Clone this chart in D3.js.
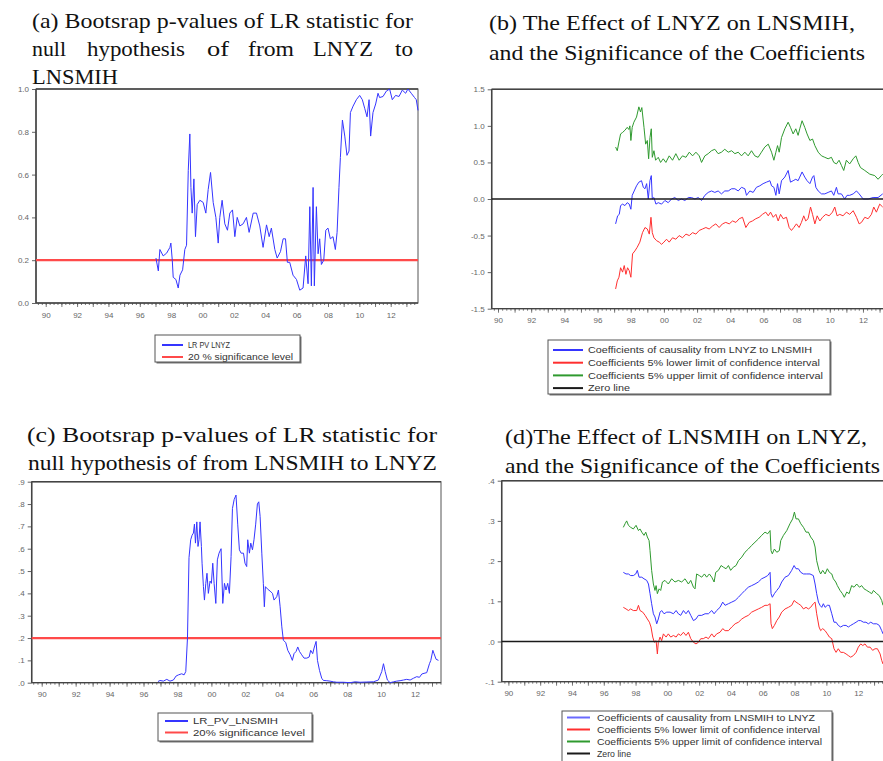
<!DOCTYPE html>
<html><head><meta charset="utf-8">
<script src="https://cdn.jsdelivr.net/npm/d3@7"></script>
<style>body{margin:0;background:#fff}svg{display:block}</style>
</head><body>
<script>
// ---------- shared axis labels ----------
const xTickYears = [1990,1992,1994,1996,1998,2000,2002,2004,2006,2008,2010,2012];
const xTickLabels = ["90","92","94","96","98","00","02","04","06","08","10","12"];

// ---------- panel (a) ----------
const aTitle1 = "(a) Bootsrap p-values of LR statistic for";
const aTitle2Words = ["null","hypothesis","of","from","LNYZ","to"];
const aTitle3 = "LNSMIH";
const aYTicks = [0,0.2,0.4,0.6,0.8,1.0];
const aYLabels = ["0.0","0.2","0.4","0.6","0.8","1.0"];
const aLegend = ["LR PV LNYZ","20 % significance level"];
const aSig = 0.2;
const aT = [1997.03,1997.18,1997.28,1997.49,1997.71,1997.92,1997.98,1998.07,1998.13,1998.30,1998.45,1998.56,1998.73,1998.87,1998.98,1999.09,1999.19,1999.26,1999.34,1999.45,1999.55,1999.66,1999.83,2000.04,2000.21,2000.36,2000.51,2000.68,2000.85,2001.00,2001.10,2001.25,2001.42,2001.59,2001.74,2001.91,2002.06,2002.21,2002.38,2002.59,2002.80,2002.97,2003.23,2003.44,2003.65,2003.86,2004.08,2004.25,2004.39,2004.61,2004.76,2004.97,2005.14,2005.29,2005.41,2005.56,2005.77,2005.99,2006.20,2006.41,2006.58,2006.73,2006.84,2006.94,2007.05,2007.13,2007.26,2007.37,2007.47,2007.58,2007.73,2007.86,2008.00,2008.15,2008.32,2008.47,2008.58,2008.70,2008.79,2008.92,2009.07,2009.21,2009.34,2009.43,2009.60,2009.81,2010.02,2010.19,2010.34,2010.49,2010.62,2010.72,2010.87,2011.04,2011.19,2011.29,2011.51,2011.72,2011.93,2012.10,2012.31,2012.53,2012.74,2012.95,2013.10,2013.31,2013.52,2013.63,2013.74];
const aPV = [0.21,0.15,0.25,0.22,0.233,0.26,0.28,0.20,0.12,0.11,0.07,0.13,0.155,0.25,0.27,0.62,0.79,0.54,0.42,0.58,0.31,0.46,0.48,0.47,0.42,0.53,0.61,0.47,0.40,0.28,0.40,0.48,0.37,0.34,0.42,0.435,0.31,0.40,0.36,0.37,0.40,0.33,0.42,0.42,0.36,0.26,0.365,0.31,0.35,0.25,0.21,0.24,0.30,0.30,0.19,0.19,0.13,0.11,0.06,0.07,0.22,0.09,0.45,0.08,0.54,0.08,0.45,0.23,0.30,0.18,0.20,0.34,0.35,0.30,0.31,0.25,0.33,0.54,0.68,0.855,0.78,0.69,0.71,0.89,0.92,0.95,0.97,0.95,0.91,0.87,0.95,0.78,0.89,0.93,0.98,0.96,0.965,0.99,1.0,0.95,0.97,0.965,0.995,0.98,1.0,0.98,0.96,0.95,0.90];

// ---------- panel (b) ----------
const bTitle1 = "(b) The Effect of LNYZ on LNSMIH,";
const bTitle2 = "and the Significance of the Coefficients";
const bYTicks = [-1.5,-1.0,-0.5,0,0.5,1.0,1.5];
const bYLabels = ["-1.5","-1.0","-0.5","0.0","0.5","1.0","1.5"];
const bLegend = ["Coefficients of causality from LNYZ to LNSMIH","Coefficients 5% lower limit of confidence interval","Coefficients 5% upper limit of confidence interval","Zero line"];
const bUpT = [1997.09,1997.19,1997.29,1997.39,1997.51,1997.65,1997.79,1997.89,1997.95,1998.01,1998.09,1998.19,1998.35,1998.49,1998.59,1998.67,1998.80,1998.90,1999.00,1999.08,1999.16,1999.24,1999.30,1999.40,1999.50,1999.66,1999.80,1999.96,2000.12,2000.32,2000.52,2000.72,2000.92,2001.12,2001.33,2001.53,2001.73,2001.93,2002.13,2002.27,2002.47,2002.67,2002.87,2003.07,2003.27,2003.47,2003.67,2003.88,2004.08,2004.28,2004.48,2004.68,2004.88,2005.08,2005.28,2005.48,2005.68,2005.88,2006.08,2006.29,2006.49,2006.63,2006.75,2006.85,2006.95,2007.09,2007.29,2007.49,2007.63,2007.79,2007.95,2008.09,2008.19,2008.33,2008.49,2008.63,2008.80,2008.96,2009.10,2009.30,2009.50,2009.70,2009.90,2010.10,2010.24,2010.40,2010.56,2010.70,2010.84,2011.00,2011.20,2011.41,2011.57,2011.71,2011.85,2012.11,2012.41,2012.71,2012.91,2013.11,2013.19];
const bUp = [0.71,0.66,0.78,0.89,0.91,0.94,0.98,0.95,1.0,0.80,0.98,1.05,1.12,1.26,1.19,1.25,0.98,0.75,0.80,0.55,0.84,0.96,0.57,0.66,0.53,0.57,0.50,0.55,0.50,0.59,0.53,0.62,0.53,0.59,0.57,0.64,0.59,0.64,0.59,0.50,0.59,0.62,0.66,0.68,0.62,0.64,0.68,0.64,0.66,0.62,0.64,0.59,0.64,0.59,0.66,0.59,0.57,0.64,0.71,0.75,0.64,0.53,0.64,0.73,0.64,0.84,0.96,1.05,0.98,0.89,0.96,0.87,0.96,1.07,0.98,0.89,0.80,0.82,0.73,0.64,0.59,0.57,0.55,0.57,0.50,0.48,0.53,0.46,0.39,0.53,0.48,0.55,0.59,0.50,0.43,0.39,0.34,0.32,0.27,0.32,0.34];
const bCoefT = [1997.09,1997.21,1997.31,1997.39,1997.51,1997.65,1997.79,1997.91,1998.01,1998.09,1998.21,1998.35,1998.49,1998.65,1998.76,1998.86,1998.96,1999.06,1999.16,1999.24,1999.30,1999.40,1999.52,1999.66,1999.86,2000.06,2000.26,2000.46,2000.66,2000.86,2001.06,2001.27,2001.47,2001.67,2001.87,2002.07,2002.27,2002.47,2002.67,2002.87,2003.07,2003.27,2003.47,2003.67,2003.88,2004.08,2004.28,2004.48,2004.68,2004.88,2004.98,2005.18,2005.38,2005.58,2005.78,2005.98,2006.18,2006.39,2006.49,2006.63,2006.75,2006.85,2006.95,2007.09,2007.29,2007.49,2007.63,2007.79,2007.95,2008.09,2008.19,2008.33,2008.49,2008.63,2008.80,2008.96,2009.04,2009.16,2009.30,2009.50,2009.70,2009.90,2010.10,2010.24,2010.40,2010.50,2010.70,2010.90,2011.04,2011.20,2011.41,2011.61,2011.77,2012.01,2012.31,2012.61,2012.91,2013.19];
const bCoef = [-0.34,-0.23,-0.21,-0.09,-0.07,-0.09,-0.05,-0.07,-0.14,0.05,0.11,0.18,0.23,0.25,0.16,0.14,0.21,0.0,0.25,0.32,0.0,0.02,-0.07,-0.05,-0.07,-0.02,-0.05,0.0,0.02,-0.02,0.0,-0.02,0.02,0.02,0.0,0.02,-0.02,0.05,0.09,0.11,0.09,0.11,0.07,0.11,0.11,0.14,0.14,0.11,0.16,0.14,0.05,0.11,0.09,0.16,0.18,0.21,0.23,0.25,0.18,0.16,0.05,0.21,0.07,0.25,0.30,0.39,0.23,0.25,0.27,0.25,0.30,0.37,0.30,0.25,0.21,0.30,0.32,0.16,0.11,0.07,0.07,0.09,0.11,0.05,0.16,0.07,0.07,0.0,0.05,0.05,0.07,0.11,0.07,0.0,0.0,0.02,0.02,0.07];
const bLowT = [1997.09,1997.19,1997.29,1997.39,1997.51,1997.61,1997.71,1997.81,1997.91,1998.01,1998.11,1998.25,1998.39,1998.55,1998.71,1998.86,1999.00,1999.12,1999.22,1999.30,1999.40,1999.56,1999.72,1999.86,2000.00,2000.16,2000.32,2000.52,2000.72,2000.92,2001.12,2001.33,2001.53,2001.73,2001.93,2002.13,2002.33,2002.53,2002.73,2002.93,2003.13,2003.33,2003.53,2003.73,2003.94,2004.14,2004.34,2004.54,2004.74,2004.94,2005.14,2005.34,2005.54,2005.74,2005.94,2006.14,2006.29,2006.43,2006.59,2006.75,2006.89,2007.03,2007.19,2007.39,2007.55,2007.69,2007.83,2007.99,2008.15,2008.29,2008.43,2008.55,2008.69,2008.84,2008.96,2009.10,2009.24,2009.40,2009.56,2009.76,2009.96,2010.16,2010.30,2010.44,2010.60,2010.80,2011.00,2011.20,2011.41,2011.61,2011.77,2011.91,2012.11,2012.31,2012.51,2012.65,2012.81,2013.01,2013.19];
const bLow = [-1.23,-1.12,-1.07,-0.94,-1.00,-0.91,-1.03,-0.94,-0.98,-1.07,-0.75,-0.71,-0.66,-0.59,-0.46,-0.39,-0.41,-0.48,-0.25,-0.46,-0.53,-0.57,-0.59,-0.62,-0.59,-0.55,-0.59,-0.53,-0.55,-0.50,-0.53,-0.48,-0.50,-0.46,-0.48,-0.43,-0.41,-0.39,-0.41,-0.37,-0.34,-0.39,-0.34,-0.32,-0.34,-0.30,-0.32,-0.27,-0.25,-0.39,-0.32,-0.30,-0.27,-0.25,-0.21,-0.18,-0.23,-0.18,-0.25,-0.21,-0.30,-0.21,-0.27,-0.25,-0.39,-0.43,-0.39,-0.34,-0.39,-0.32,-0.23,-0.30,-0.27,-0.11,-0.21,-0.34,-0.23,-0.30,-0.25,-0.21,-0.23,-0.18,-0.11,-0.23,-0.21,-0.23,-0.18,-0.21,-0.16,-0.25,-0.34,-0.32,-0.25,-0.27,-0.21,-0.11,-0.18,-0.07,-0.11];

// ---------- panel (c) ----------
const cTitle1 = "(c) Bootsrap p-values of LR statistic for";
const cTitle2 = "null hypothesis of from LNSMIH to LNYZ";
const cYTicks = [0,0.1,0.2,0.3,0.4,0.5,0.6,0.7,0.8,0.9];
const cYLabels = [".0",".1",".2",".3",".4",".5",".6",".7",".8",".9"];
const cLegend = ["LR_PV_LNSMIH","20% significance level"];
const cSig = 0.2;
const cT = [1996.85,1996.97,1997.17,1997.37,1997.56,1997.76,1997.92,1998.06,1998.25,1998.39,1998.49,1998.59,1998.68,1998.78,1998.86,1998.94,1999.00,1999.06,1999.14,1999.21,1999.27,1999.33,1999.41,1999.45,1999.53,1999.59,1999.67,1999.74,1999.82,1999.92,2000.00,2000.08,2000.16,2000.26,2000.35,2000.45,2000.57,2000.67,2000.77,2000.86,2000.96,2001.06,2001.16,2001.24,2001.34,2001.45,2001.55,2001.65,2001.75,2001.89,2001.98,2002.08,2002.14,2002.24,2002.32,2002.42,2002.51,2002.61,2002.71,2002.79,2002.87,2002.97,2003.06,2003.12,2003.18,2003.30,2003.46,2003.60,2003.69,2003.85,2003.95,2004.05,2004.15,2004.24,2004.38,2004.50,2004.64,2004.77,2004.87,2004.99,2005.09,2005.19,2005.32,2005.46,2005.62,2005.76,2005.85,2005.97,2006.05,2006.17,2006.25,2006.37,2006.50,2006.60,2006.80,2006.99,2007.19,2007.39,2007.78,2008.17,2008.47,2008.76,2009.16,2009.55,2009.84,2010.04,2010.14,2010.24,2010.37,2010.53,2010.73,2010.92,2011.12,2011.32,2011.51,2011.71,2011.91,2012.10,2012.26,2012.40,2012.53,2012.69,2012.85,2012.93,2013.05,2013.12,2013.24,2013.38];
const cPV = [0.005,0.01,0.007,0.015,0.007,0.012,0.03,0.035,0.04,0.035,0.05,0.2,0.56,0.64,0.66,0.67,0.71,0.625,0.72,0.61,0.64,0.72,0.61,0.535,0.43,0.37,0.445,0.49,0.40,0.455,0.445,0.535,0.445,0.355,0.55,0.58,0.60,0.355,0.445,0.415,0.445,0.40,0.565,0.78,0.82,0.84,0.71,0.595,0.58,0.58,0.535,0.52,0.64,0.58,0.625,0.595,0.64,0.71,0.80,0.81,0.745,0.58,0.445,0.34,0.43,0.42,0.41,0.40,0.37,0.385,0.415,0.34,0.25,0.19,0.18,0.145,0.125,0.10,0.13,0.14,0.16,0.14,0.125,0.11,0.11,0.115,0.145,0.13,0.155,0.185,0.10,0.055,0.02,0.01,0.009,0.007,0.004,0.002,0.002,0.0,0.004,0.002,0.003,0.004,0.012,0.05,0.085,0.05,0.012,0.0,0.004,0.007,0.009,0.012,0.015,0.012,0.02,0.027,0.024,0.039,0.042,0.045,0.085,0.10,0.145,0.13,0.105,0.10];

// ---------- panel (d) ----------
const dTitle1 = "(d)The Effect of LNSMIH on LNYZ,";
const dTitle2 = "and the Significance of the Coefficients";
const dYTicks = [-0.1,0,0.1,0.2,0.3,0.4];
const dYLabels = ["-.1",".0",".1",".2",".3",".4"];
const dLegend = ["Coefficients of causality from LNSMIH to LNYZ","Coefficients 5% lower limit of confidence interval","Coefficients 5% upper limit of confidence interval","Zero line"];
const dUpT = [1997.23,1997.34,1997.44,1997.55,1997.69,1997.86,1998.03,1998.18,1998.28,1998.39,1998.53,1998.64,1998.74,1998.85,1998.91,1999.01,1999.12,1999.22,1999.29,1999.37,1999.48,1999.58,1999.69,1999.85,2000.06,2000.27,2000.48,2000.69,2000.90,2001.11,2001.32,2001.47,2001.64,2001.74,2001.84,2002.01,2002.16,2002.33,2002.47,2002.64,2002.79,2002.94,2003.04,2003.21,2003.38,2003.52,2003.69,2003.84,2003.98,2004.15,2004.32,2004.47,2004.68,2004.88,2005.09,2005.30,2005.51,2005.72,2005.93,2006.14,2006.31,2006.46,2006.52,2006.60,2006.73,2006.88,2007.04,2007.13,2007.30,2007.51,2007.71,2007.88,2007.99,2008.09,2008.24,2008.39,2008.56,2008.72,2008.87,2009.01,2009.18,2009.29,2009.39,2009.54,2009.64,2009.77,2009.92,2010.06,2010.19,2010.34,2010.44,2010.59,2010.69,2010.86,2011.01,2011.13,2011.28,2011.43,2011.59,2011.74,2011.91,2012.08,2012.22,2012.37,2012.54,2012.70,2012.85,2012.96,2013.17,2013.33,2013.48,2013.56];
const dUp = [0.284,0.293,0.30,0.289,0.284,0.28,0.289,0.276,0.28,0.272,0.264,0.272,0.26,0.251,0.226,0.177,0.143,0.127,0.139,0.119,0.131,0.127,0.148,0.152,0.143,0.156,0.148,0.152,0.148,0.156,0.143,0.152,0.135,0.131,0.168,0.164,0.16,0.168,0.16,0.168,0.16,0.148,0.172,0.177,0.189,0.185,0.181,0.189,0.177,0.185,0.189,0.201,0.21,0.222,0.23,0.239,0.247,0.255,0.264,0.272,0.268,0.276,0.226,0.218,0.23,0.222,0.226,0.251,0.264,0.276,0.293,0.305,0.322,0.305,0.305,0.293,0.284,0.272,0.272,0.26,0.251,0.235,0.201,0.177,0.168,0.177,0.168,0.181,0.172,0.168,0.156,0.148,0.139,0.127,0.119,0.110,0.123,0.119,0.139,0.135,0.143,0.135,0.139,0.131,0.127,0.123,0.119,0.127,0.119,0.114,0.102,0.09];
const dCoefT = [1997.23,1997.40,1997.55,1997.69,1997.86,1998.01,1998.11,1998.22,1998.39,1998.53,1998.70,1998.81,1998.91,1999.01,1999.12,1999.22,1999.33,1999.43,1999.54,1999.64,1999.79,1999.96,2000.17,2000.38,2000.55,2000.69,2000.84,2001.01,2001.17,2001.32,2001.47,2001.64,2001.80,2001.95,2002.16,2002.37,2002.58,2002.79,2002.94,2003.10,2003.31,2003.48,2003.63,2003.84,2004.05,2004.26,2004.47,2004.68,2004.88,2005.09,2005.30,2005.51,2005.72,2005.93,2006.14,2006.31,2006.46,2006.52,2006.60,2006.73,2006.88,2007.04,2007.19,2007.40,2007.61,2007.82,2007.97,2008.09,2008.24,2008.39,2008.56,2008.76,2008.97,2009.18,2009.29,2009.39,2009.50,2009.60,2009.71,2009.81,2009.92,2010.06,2010.19,2010.34,2010.48,2010.61,2010.75,2010.90,2011.07,2011.24,2011.38,2011.53,2011.70,2011.87,2012.01,2012.16,2012.33,2012.49,2012.64,2012.79,2012.96,2013.17,2013.33,2013.48,2013.56];
const dCoef = [0.172,0.168,0.168,0.164,0.164,0.168,0.177,0.16,0.16,0.156,0.152,0.143,0.119,0.094,0.069,0.061,0.044,0.056,0.073,0.077,0.069,0.073,0.073,0.069,0.077,0.069,0.065,0.077,0.069,0.077,0.065,0.052,0.056,0.065,0.065,0.069,0.069,0.077,0.069,0.077,0.085,0.098,0.09,0.094,0.098,0.102,0.11,0.119,0.127,0.135,0.139,0.143,0.148,0.156,0.16,0.164,0.172,0.119,0.110,0.119,0.127,0.135,0.148,0.16,0.164,0.177,0.189,0.181,0.181,0.172,0.168,0.168,0.168,0.164,0.143,0.119,0.098,0.09,0.085,0.094,0.085,0.09,0.09,0.069,0.048,0.048,0.040,0.036,0.040,0.040,0.036,0.040,0.044,0.048,0.052,0.052,0.048,0.048,0.044,0.048,0.044,0.044,0.040,0.027,0.019];
const dLowT = [1997.23,1997.40,1997.55,1997.69,1997.86,1998.07,1998.18,1998.28,1998.45,1998.60,1998.74,1998.87,1998.97,1999.08,1999.18,1999.29,1999.37,1999.43,1999.54,1999.64,1999.75,1999.92,2000.06,2000.21,2000.38,2000.55,2000.69,2000.84,2001.01,2001.17,2001.32,2001.47,2001.64,2001.80,2001.95,2002.10,2002.26,2002.43,2002.58,2002.79,2002.94,2003.10,2003.31,2003.48,2003.63,2003.84,2004.05,2004.26,2004.47,2004.68,2004.88,2005.09,2005.30,2005.51,2005.72,2005.93,2006.14,2006.31,2006.46,2006.52,2006.60,2006.73,2006.88,2007.04,2007.19,2007.40,2007.61,2007.82,2007.97,2008.09,2008.24,2008.39,2008.56,2008.72,2008.87,2009.01,2009.18,2009.29,2009.39,2009.54,2009.64,2009.77,2009.92,2010.06,2010.19,2010.34,2010.48,2010.61,2010.75,2010.90,2011.07,2011.24,2011.38,2011.53,2011.70,2011.87,2012.01,2012.16,2012.29,2012.43,2012.58,2012.75,2012.91,2013.06,2013.21,2013.38,2013.48,2013.56];
const dLow = [0.085,0.081,0.077,0.081,0.077,0.077,0.09,0.077,0.073,0.065,0.056,0.048,0.036,0.011,-0.002,0.002,-0.031,-0.002,0.011,0.002,0.019,0.011,0.019,0.011,0.015,0.011,0.019,0.015,0.023,0.015,0.023,0.007,-0.002,-0.006,-0.002,0.007,0.007,0.011,0.007,0.019,0.011,0.019,0.023,0.032,0.027,0.027,0.036,0.044,0.048,0.056,0.061,0.065,0.073,0.077,0.081,0.085,0.09,0.09,0.094,0.044,0.032,0.040,0.052,0.061,0.073,0.081,0.085,0.09,0.102,0.098,0.094,0.09,0.081,0.085,0.081,0.085,0.094,0.098,0.069,0.036,0.027,0.032,0.027,0.019,0.011,0.007,-0.018,-0.027,-0.018,-0.027,-0.027,-0.031,-0.035,-0.039,-0.035,-0.027,-0.014,-0.006,-0.010,-0.006,-0.014,-0.014,-0.022,-0.018,-0.018,-0.031,-0.047,-0.056];

// ---------- drawing ----------
const W = 883, H = 761;
const BLUE = "#3535ff", RED = "#ff2f2f", GREEN = "#2f9a2f", SIGRED = "#ff4a4a", ZERO = "#1a1a1a";
const SANS = "'Liberation Sans', Arial, sans-serif";
const SERIF = "'Liberation Serif', 'Times New Roman', serif";
const svg = d3.select("body").append("svg").attr("width", W).attr("height", H);
svg.append("rect").attr("width", W).attr("height", H).attr("fill", "#fff");
const defs = svg.append("defs");

function zip(t, v) { return t.map((d, i) => [d, v[i]]); }

function drawPanel(p) {
  defs.append("clipPath").attr("id", "clip" + p.id)
    .append("rect").attr("x", p.clip[0]).attr("y", p.clip[1]).attr("width", p.clip[2]).attr("height", p.clip[3]);
  const g = svg.append("g").attr("clip-path", `url(#clip${p.id})`);
  const x = d3.scaleLinear().domain(p.xDom).range(p.xRange);
  const y = d3.scaleLinear().domain(p.yDom).range(p.yRange);
  const [x0, x1] = p.xRange, [yb, yt] = p.yRange;

  const quarters = d3.range(Math.ceil(p.xDom[0] * 4), Math.floor(p.xDom[1] * 4) + 1).map(q => q / 4);
  g.append("g").attr("transform", `translate(0,${yb})`)
    .call(d3.axisBottom(x).tickValues(quarters).tickSize(2).tickFormat(""))
    .call(s => s.select(".domain").remove())
    .call(s => s.selectAll("line").attr("stroke", "#555").attr("stroke-width", 0.8));
  const years = d3.range(Math.ceil(p.xDom[0]), Math.floor(p.xDom[1]) + 1);
  g.append("g").attr("transform", `translate(0,${yb})`)
    .call(d3.axisBottom(x).tickValues(years).tickSize(4).tickFormat(""))
    .call(s => s.select(".domain").remove())
    .call(s => s.selectAll("line").attr("stroke", "#555").attr("stroke-width", 0.8));
  g.append("g").attr("transform", `translate(0,${yb})`)
    .call(d3.axisBottom(x).tickValues(xTickYears).tickSize(0).tickPadding(9)
      .tickFormat((d, i) => xTickLabels[i]))
    .call(s => s.select(".domain").remove())
    .call(s => s.selectAll("text").attr("font-family", SANS).attr("font-size", 8).attr("fill", "#666"));

  g.append("g").attr("transform", `translate(${x0},0)`)
    .call(d3.axisLeft(y).tickValues(p.yTicks).tickSize(4).tickPadding(3)
      .tickFormat((d, i) => p.yLabels[i]))
    .call(s => s.select(".domain").remove())
    .call(s => s.selectAll("line").attr("stroke", "#555").attr("stroke-width", 0.9))
    .call(s => s.selectAll("text").attr("font-family", SANS).attr("font-size", 8).attr("fill", "#666"));

  g.append("rect").attr("x", x0).attr("y", yt).attr("width", x1 - x0).attr("height", yb - yt)
    .attr("fill", "none").attr("stroke", "#555").attr("stroke-width", 1);
  g.append("line").attr("x1", x0).attr("x2", x1).attr("y1", yt).attr("y2", yt)
    .attr("stroke", "#444").attr("stroke-width", 1.5);
  g.append("line").attr("x1", x0).attr("x2", x0).attr("y1", yt).attr("y2", yb)
    .attr("stroke", "#444").attr("stroke-width", 1.5);
  g.append("line").attr("x1", x0).attr("x2", x1).attr("y1", yb).attr("y2", yb)
    .attr("stroke", "#444").attr("stroke-width", 1.3);

  const plot = g.append("g");
  const line = d3.line().x(d => x(d[0])).y(d => y(d[1]));
  if (p.hline) {
    plot.append("path").datum([[p.xDom[0], p.hline.v], [p.xDom[1], p.hline.v]])
      .attr("d", line).attr("fill", "none").attr("stroke", p.hline.color).attr("stroke-width", p.hline.w);
  }
  p.series.forEach(s => {
    plot.append("path").datum(zip(s.t, s.v)).attr("d", line)
      .attr("fill", "none").attr("stroke", s.color).attr("stroke-width", 1).attr("stroke-linejoin", "round");
  });
  if (p.hlineTop) {
    plot.append("path").datum([[p.xDom[0], p.hlineTop.v], [p.xDom[1], p.hlineTop.v]])
      .attr("d", line).attr("fill", "none").attr("stroke", p.hlineTop.color).attr("stroke-width", p.hlineTop.w);
  }
}

function legend(l) {
  const g = svg.append("g");
  g.append("rect").attr("x", l.x + 1.5).attr("y", l.y + 1.5).attr("width", l.w).attr("height", l.h).attr("fill", "#777");
  g.append("rect").attr("x", l.x).attr("y", l.y).attr("width", l.w).attr("height", l.h)
    .attr("fill", "#fff").attr("stroke", "#555").attr("stroke-width", 1);
  l.items.forEach((it, i) => {
    const yy = l.y0 + i * l.dy;
    g.append("line").attr("x1", l.sx0).attr("x2", l.sx1).attr("y1", yy).attr("y2", yy)
      .attr("stroke", it.color).attr("stroke-width", 2);
    g.append("text").attr("x", l.tx).attr("y", yy + 3.2).text(it.label)
      .attr("font-family", SANS).attr("font-size", 9).attr("fill", "#333")
      .attr("textLength", it.len).attr("lengthAdjust", "spacingAndGlyphs");
  });
}

function ttl(str, x, y, len, size) {
  svg.append("text").attr("x", x).attr("y", y).text(str)
    .attr("font-family", SERIF).attr("font-size", size || 21).attr("fill", "#111")
    .attr("textLength", len).attr("lengthAdjust", "spacingAndGlyphs");
}

drawPanel({ id: "a", clip: [0, 80, 440, 330], xDom: [1989.38, 2013.74], xRange: [36, 418],
  yDom: [0, 1], yRange: [303, 89], yTicks: aYTicks, yLabels: aYLabels,
  hline: { v: aSig, color: SIGRED, w: 2.2 },
  series: [{ t: aT, v: aPV, color: BLUE }] });
drawPanel({ id: "b", clip: [442, 80, 441, 330], xDom: [1989.62, 2013.75], xRange: [491.7, 892],
  yDom: [-1.5, 1.5], yRange: [308.7, 89.3], yTicks: bYTicks, yLabels: bYLabels,
  series: [{ t: bUpT, v: bUp, color: GREEN }, { t: bCoefT, v: bCoef, color: BLUE }, { t: bLowT, v: bLow, color: RED }],
  hlineTop: { v: 0, color: ZERO, w: 1.6 } });
drawPanel({ id: "c", clip: [0, 475, 443, 240], xDom: [1989.41, 2013.53], xRange: [31.7, 441],
  yDom: [0, 0.9], yRange: [682.7, 481.7], yTicks: cYTicks, yLabels: cYLabels,
  hline: { v: cSig, color: SIGRED, w: 2.2 },
  series: [{ t: cT, v: cPV, color: BLUE }] });
drawPanel({ id: "d", clip: [444, 475, 439, 240], xDom: [1989.58, 2013.75], xRange: [501.7, 886],
  yDom: [-0.1, 0.4], yRange: [681.7, 480.7], yTicks: dYTicks, yLabels: dYLabels,
  series: [{ t: dUpT, v: dUp, color: GREEN }, { t: dCoefT, v: dCoef, color: BLUE }, { t: dLowT, v: dLow, color: RED }],
  hlineTop: { v: 0, color: ZERO, w: 1.6 } });

ttl(aTitle1, 32, 27.5, 381, 21.5);
const aWordX = [32, 87, 207, 248, 313, 395];
const aWordLen = [34, 98, 22, 46, 60, 18];
aTitle2Words.forEach((w, i) => ttl(w, aWordX[i], 55.5, aWordLen[i], 21.5));
ttl(aTitle3, 32, 84, 86, 21.5);
ttl(bTitle1, 489, 29.5, 366, 21);
ttl(bTitle2, 489, 59.5, 376, 21);
ttl(cTitle1, 27, 442, 410, 21);
ttl(cTitle2, 28, 470, 409, 21);
ttl(dTitle1, 505, 444, 362, 21);
ttl(dTitle2, 505, 473, 375, 21);

legend({ x: 155, y: 335, w: 145, h: 27, y0: 345, dy: 12, sx0: 162, sx1: 183, tx: 188,
  items: [{ label: aLegend[0], color: BLUE, len: 42 }, { label: aLegend[1], color: SIGRED, len: 105 }] });
legend({ x: 548, y: 340, w: 282, h: 54, y0: 350, dy: 12.7, sx0: 553, sx1: 583, tx: 588,
  items: [{ label: bLegend[0], color: BLUE, len: 224 }, { label: bLegend[1], color: RED, len: 232 },
    { label: bLegend[2], color: GREEN, len: 235 }, { label: bLegend[3], color: ZERO, len: 42 }] });
legend({ x: 158, y: 713, w: 154, h: 28, y0: 721, dy: 11.5, sx0: 165, sx1: 188, tx: 193,
  items: [{ label: cLegend[0], color: BLUE, len: 85 }, { label: cLegend[1], color: SIGRED, len: 112 }] });
legend({ x: 562, y: 711, w: 270, h: 52, y0: 717.5, dy: 12, sx0: 567, sx1: 590, tx: 597,
  items: [{ label: dLegend[0], color: "#6a6aff", len: 218 }, { label: dLegend[1], color: RED, len: 223 },
    { label: dLegend[2], color: GREEN, len: 225 }, { label: dLegend[3], color: ZERO, len: 34 }] });
</script>
</body></html>
